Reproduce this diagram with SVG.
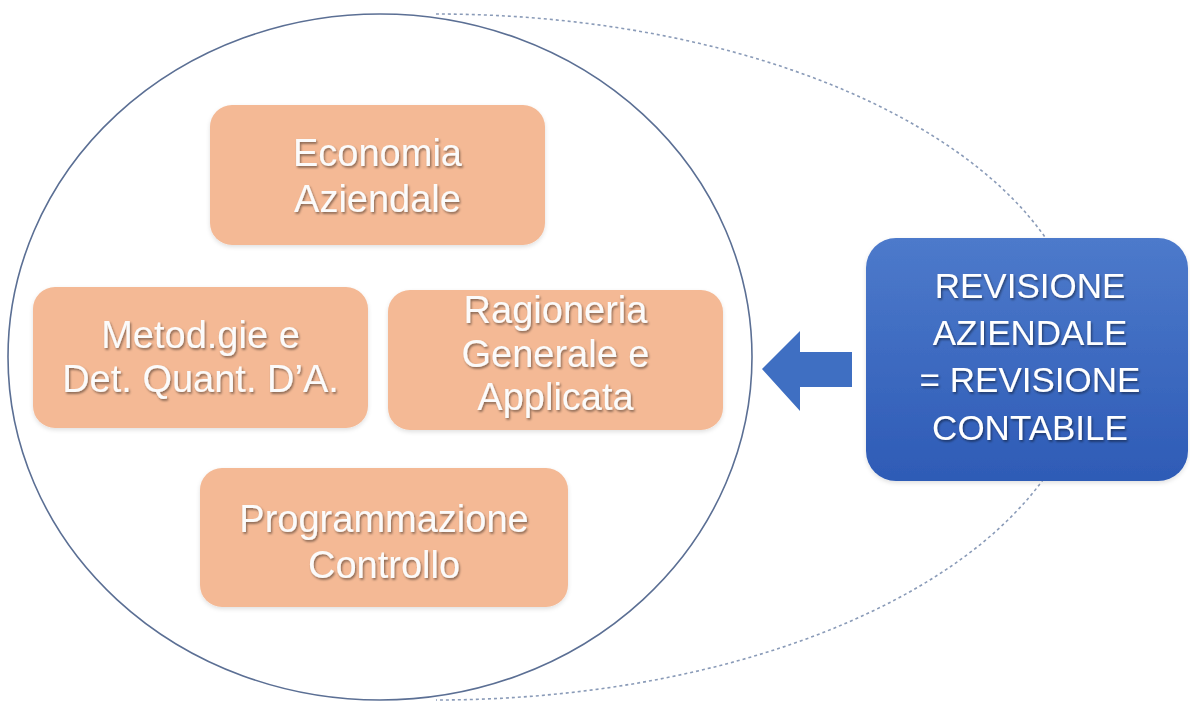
<svg xmlns="http://www.w3.org/2000/svg" width="1190" height="703" viewBox="0 0 1190 703">
<defs>
<linearGradient id="blueGrad" x1="0" y1="0" x2="0" y2="1">
<stop offset="0" stop-color="#4d7acb"/>
<stop offset="1" stop-color="#2e5bb6"/>
</linearGradient>
<filter id="txtShadow" x="-10%" y="-20%" width="120%" height="150%">
<feDropShadow dx="1.2" dy="1.8" stdDeviation="1" flood-color="#000" flood-opacity="0.45"/>
</filter>
<filter id="boxShadow" x="-5%" y="-5%" width="110%" height="115%">
<feDropShadow dx="0" dy="2" stdDeviation="2" flood-color="#000" flood-opacity="0.12"/>
</filter>
</defs>
<style>
.orange{fill:#f4b995;filter:url(#boxShadow);}
.blue{fill:url(#blueGrad);filter:url(#boxShadow);}
.lbl{font-family:"Liberation Sans",Arial,sans-serif;font-size:38px;fill:#fbfbfb;text-anchor:middle;filter:url(#txtShadow);}
.blbl{font-family:"Liberation Sans",Arial,sans-serif;font-size:35px;fill:#ffffff;text-anchor:middle;filter:url(#txtShadow);}
.outline{fill:none;stroke:#5b6f94;stroke-width:1.6;}
.dash{fill:none;stroke:#8a9bb8;stroke-width:1.6;stroke-dasharray:3 3;}
</style>
<rect width="1190" height="703" fill="#ffffff"/>
<g id="connectors">
<path class="dash" d="M436,14 A650,343 0 0 1 436,700"/>
<path id="arrow" d="M762,369 L800,331 L800,352 L852,352 L852,387 L800,387 L800,411 Z" fill="#3f6fc2"/>
</g>
<g id="outer-ellipse">
<ellipse class="outline" cx="380" cy="357" rx="372" ry="343"/>
</g>
<g id="node-economia">
<rect class="orange" x="210" y="105" width="335" height="140" rx="22"/>
<text class="lbl" x="377.5" y="166">Economia</text>
<text class="lbl" x="377.5" y="212">Aziendale</text>
</g>
<g id="node-metod">
<rect class="orange" x="33" y="287" width="335" height="141" rx="22"/>
<text class="lbl" x="200.5" y="348">Metod.gie e</text>
<text class="lbl" x="200.5" y="392">Det. Quant. D’A.</text>
</g>
<g id="node-ragioneria">
<rect class="orange" x="388" y="290" width="335" height="140" rx="22"/>
<text class="lbl" x="555.5" y="323">Ragioneria</text>
<text class="lbl" x="555.5" y="367">Generale e</text>
<text class="lbl" x="555.5" y="410">Applicata</text>
</g>
<g id="node-programmazione">
<rect class="orange" x="200" y="468" width="368" height="139" rx="22"/>
<text class="lbl" x="384" y="532">Programmazione</text>
<text class="lbl" x="384" y="578">Controllo</text>
</g>
<g id="node-revisione">
<rect class="blue" x="866" y="238" width="322" height="243" rx="30"/>
<text class="blbl" x="1030" y="298">REVISIONE</text>
<text class="blbl" x="1030" y="345">AZIENDALE</text>
<text class="blbl" x="1030" y="392">= REVISIONE</text>
<text class="blbl" x="1030" y="440">CONTABILE</text>
</g>
</svg>
